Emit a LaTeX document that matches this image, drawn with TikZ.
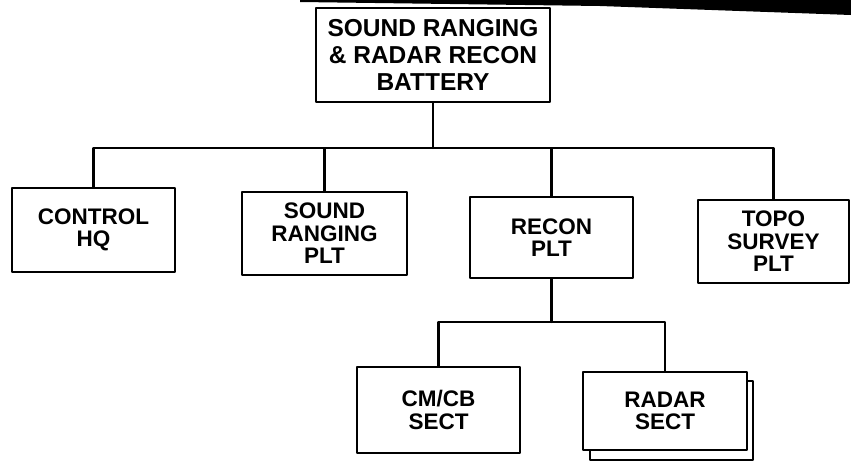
\documentclass[tikz,border=0pt]{standalone}
\usepackage{fontspec}
\setmainfont{Liberation Sans}
\begin{document}
\begin{tikzpicture}[x=1pt,y=-1pt,line cap=round,line join=round,
  unit/.style={draw,line width=2.4pt,fill=white,inner sep=0pt,align=center,
    font=\bfseries\fontsize{22.5}{22.5}\selectfont},
  link/.style={line width=2.2pt}]
  \useasboundingbox (0,0) rectangle (851,469);
  \fill (300,0)--(851,0)--(851,15)--(600,6)--(300,2)--cycle;
  \node[unit,minimum width=234,minimum height=94,font=\bfseries\fontsize{24.5}{27}\selectfont]
    (bty) at (433,55) {SOUND RANGING\\\& RADAR RECON\\BATTERY};
  \node[unit,minimum width=163,minimum height=84] (ctrl) at (93.5,230) {CONTROL\\HQ};
  \node[unit,minimum width=165,minimum height=83] (srplt) at (324.5,233.5) {SOUND\\RANGING\\PLT};
  \node[unit,minimum width=163,minimum height=81] (recon) at (551.5,237.5) {RECON\\PLT};
  \node[unit,minimum width=151,minimum height=83] (topo) at (773.5,241.5) {TOPO\\SURVEY\\PLT};
  \node[unit,minimum width=163,minimum height=86] (cmcb) at (438.5,410) {CM/CB\\SECT};
  \draw[line width=2.4pt] (590,381) rectangle (753,460);
  \node[unit,minimum width=164,minimum height=78] (radar) at (665,411) {RADAR\\SECT};
  \coordinate (bus) at (433,148);
  \coordinate (sub) at (551.5,322);
  \draw[link] (bty) -- (bus);
  \foreach \u in {ctrl,srplt,recon,topo}
    \draw[link] (bus) -| (\u);
  \draw[link] (recon) -- (sub);
  \foreach \u in {cmcb,radar}
    \draw[link] (sub) -| (\u);
\end{tikzpicture}
\end{document}
